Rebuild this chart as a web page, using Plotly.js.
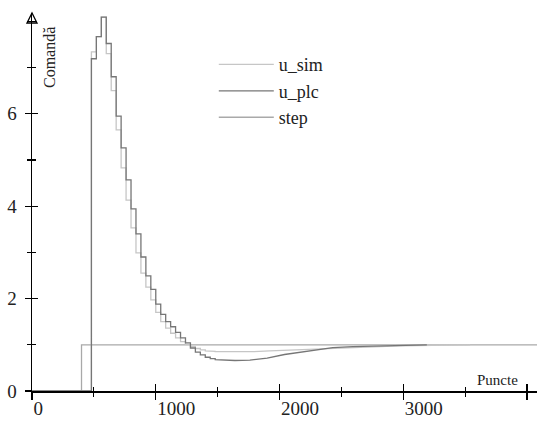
<!DOCTYPE html>
<html>
<head>
<meta charset="utf-8">
<script src="https://cdn.plot.ly/plotly-3.0.1.min.js"></script>
<style>html,body{margin:0;padding:0;background:#fff;}#chart{width:537px;height:421px;}</style>
</head>
<body>
<div id="chart"></div>
<script>
// ---- data ----
const seriesNames = ["u_sim", "u_plc", "step"];

const u_plc_x = [0, 480, 520, 560, 600, 640, 680, 720, 760, 800, 840, 880, 920, 960, 1000, 1040, 1080, 1120, 1160, 1200, 1240, 1280, 1320, 1360, 1400, 1440, 1480,
                 1640, 1760, 1900, 2040, 2160, 2330, 2430, 2590, 2710, 2870, 3050, 3190];
const u_plc_y = [0, 7.19, 7.67, 8.09, 7.52, 6.80, 5.95, 5.26, 4.57, 3.94, 3.40, 2.90, 2.49, 2.20, 1.88, 1.66, 1.50, 1.39, 1.27, 1.15, 1.04, 0.93, 0.84, 0.78, 0.73, 0.70, 0.68,
                 0.66, 0.67, 0.71, 0.79, 0.84, 0.90, 0.94, 0.96, 0.97, 0.985, 0.995, 1.0];

const u_sim_x = [0, 480, 520, 560, 600, 640, 680, 720, 760, 800, 840, 880, 920, 960, 1000, 1040, 1080, 1120, 1160, 1200, 1240, 1280, 1320, 1360, 1400, 1440, 1480,
                 1680, 1790, 1920, 2060, 2170, 2330, 2430, 2710, 2970, 3240, 3540];
const u_sim_y = [0, 7.34, 7.67, 8.09, 7.30, 6.50, 5.65, 4.83, 4.13, 3.53, 2.99, 2.55, 2.25, 1.97, 1.70, 1.50, 1.36, 1.25, 1.15, 1.07, 1.01, 0.96, 0.92, 0.89, 0.87, 0.86, 0.85,
                 0.845, 0.85, 0.87, 0.885, 0.895, 0.915, 0.93, 0.955, 0.975, 0.99, 1.0];

const step_x = [0, 400, 4200];
const step_y = [0, 1, 1];

const STAIR_END = 1480;   // sampled (zero-order hold) part ends here

const xTickVals = [0, 1000, 2000, 3000, 4000];
const xTickText = ["0", "1000", "2000", "3000", ""];
const yTickVals = [0, 2, 4, 6];
const yTickText = ["0", "2", "4", "6"];

// ---- build zero-order-hold staircase from samples ----
function stairs(xs, ys, end) {
  const px = [], py = [];
  for (let i = 0; i < xs.length; i++) {
    px.push(xs[i]); py.push(ys[i]);
    if (i + 1 < xs.length && xs[i] < end) { px.push(xs[i + 1]); py.push(ys[i]); }
  }
  return [px, py];
}
const simS = stairs(u_sim_x, u_sim_y, STAIR_END);
const plcS = stairs(u_plc_x, u_plc_y, STAIR_END);
const stepS = stairs(step_x, step_y, Infinity);

const FONT = "Times New Roman, Liberation Serif, serif";
const XR = [0, 4080], YR = [0, 8.18];

const traces = [
  {x: stepS[0], y: stepS[1], mode: "lines", name: seriesNames[2], legendrank: 3,
   line: {color: "#a9a9a9", width: 1.3}},
  {x: simS[0], y: simS[1], mode: "lines", name: seriesNames[0], legendrank: 1,
   line: {color: "#c6c6c6", width: 1.3}},
  {x: plcS[0], y: plcS[1], mode: "lines", name: seriesNames[1], legendrank: 2,
   line: {color: "#767676", width: 1.3}},
  {x: [null], y: [null], xaxis: "x2", yaxis: "y2", showlegend: false, hoverinfo: "skip"}
];

const axBase = {showgrid: false, zeroline: false, tickcolor: "#000", tickwidth: 1.3,
  tickfont: {family: FONT, size: 19, color: "#222"}};

const layout = {
  width: 537, height: 421,
  margin: {l: 32, r: 0, t: 13, b: 30},
  paper_bgcolor: "#fff", plot_bgcolor: "#fff",
  font: {family: FONT},
  showlegend: true,
  legend: {x: 0.36, y: 0.912, xanchor: "left", yanchor: "top", bgcolor: "rgba(0,0,0,0)",
    font: {family: FONT, size: 18, color: "#222"}, itemwidth: 55, tracegroupgap: 0},
  xaxis: Object.assign({}, axBase, {range: XR, showline: true, linecolor: "#000", linewidth: 1.5,
    tickmode: "array", tickvals: xTickVals, ticktext: xTickText, ticks: "outside", ticklen: 7,
    ticklabelposition: "outside right",
    minor: {dtick: 500, ticks: "outside", ticklen: 4, tickcolor: "#000", tickwidth: 1.2}}),
  yaxis: Object.assign({}, axBase, {range: YR, showline: true, linecolor: "#000", linewidth: 1.5,
    tickmode: "array", tickvals: yTickVals, ticktext: yTickText, ticks: "outside", ticklen: 6,
    ticklabelstandoff: 4,
    minor: {dtick: 1, ticks: "outside", ticklen: 4, tickcolor: "#000", tickwidth: 1.2}}),
  xaxis2: Object.assign({}, axBase, {range: XR, overlaying: "x", anchor: "y", showline: false,
    showticklabels: false, tickmode: "array", tickvals: xTickVals, ticks: "inside", ticklen: 7,
    minor: {dtick: 500, ticks: "inside", ticklen: 4, tickcolor: "#000", tickwidth: 1.2}}),
  yaxis2: Object.assign({}, axBase, {range: YR, overlaying: "y", anchor: "x", side: "left", showline: false,
    showticklabels: false, tickmode: "array", tickvals: yTickVals, ticks: "inside", ticklen: 6,
    minor: {dtick: 1, ticks: "inside", ticklen: 4, tickcolor: "#000", tickwidth: 1.2}}),
  shapes: [
    {type: "path", xref: "paper", yref: "paper", xsizemode: "pixel", ysizemode: "pixel",
     xanchor: 0, yanchor: 1, path: "M-5,-10 L0,0 L5,-10 Z",
     line: {color: "#000", width: 1.3}, fillcolor: "rgba(255,255,255,0)", layer: "above"}
  ],
  annotations: [
    {text: "Comandă", xref: "paper", yref: "paper", x: 0, y: 1, xanchor: "center", yanchor: "middle",
     xshift: 17, yshift: -45,
     textangle: -90, showarrow: false, font: {family: FONT, size: 16, color: "#222"}},
    {text: "Puncte", xref: "paper", yref: "paper", x: 1, y: 0, xanchor: "right", yanchor: "bottom",
     xshift: -17, yshift: 1, showarrow: false, font: {family: FONT, size: 15, color: "#222"}}
  ]
};

Plotly.newPlot("chart", traces, layout, {displayModeBar: false, staticPlot: true});
</script>
</body>
</html>
